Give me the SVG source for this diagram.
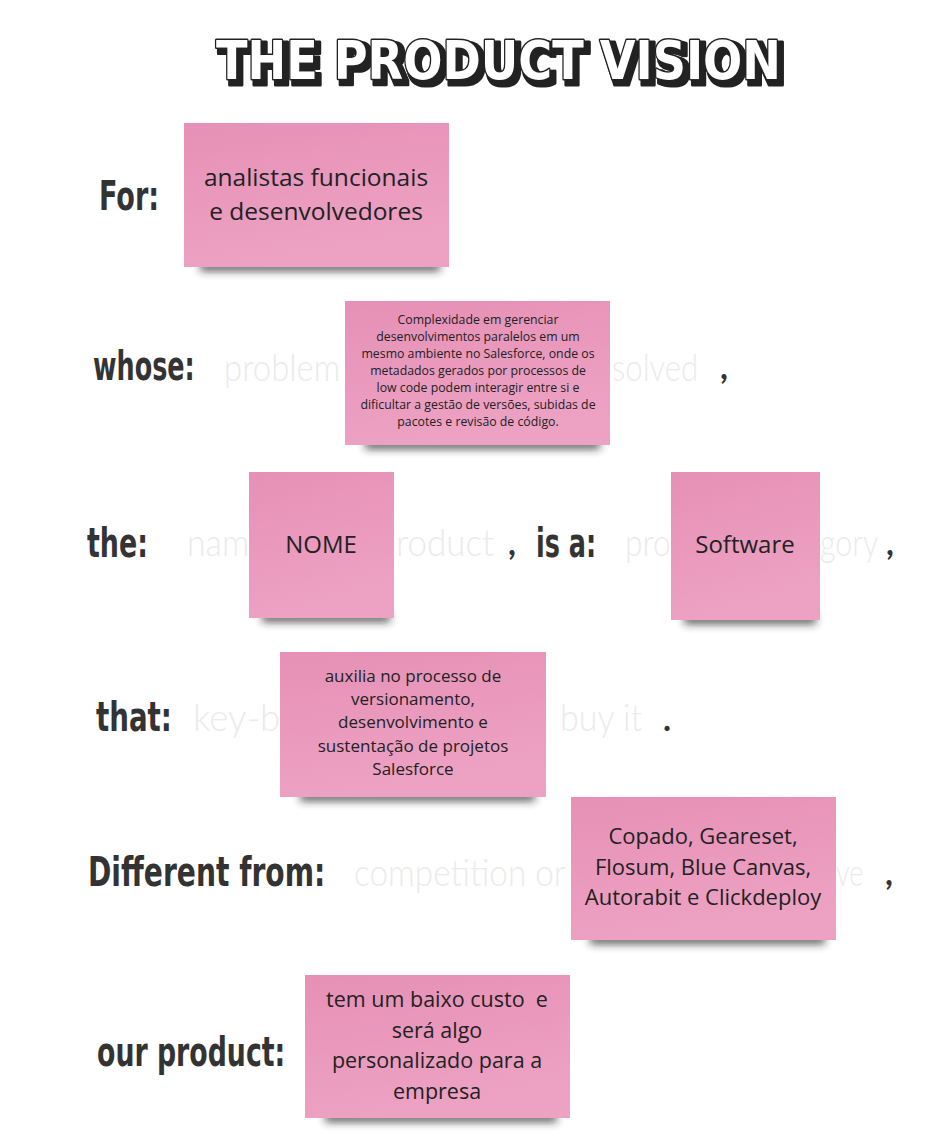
<svg xmlns="http://www.w3.org/2000/svg" width="934" height="1132" viewBox="0 0 934 1132">
  <defs>
    <linearGradient id="pink" x1="0" y1="0" x2="0.3" y2="1">
      <stop offset="0" stop-color="#e690b6"/>
      <stop offset="1" stop-color="#eda2c3"/>
    </linearGradient>
    <filter id="blur" x="-20%" y="-200%" width="140%" height="500%">
      <feGaussianBlur stdDeviation="4"/>
    </filter>
    <filter id="drop3d" x="-5%" y="-20%" width="110%" height="150%">
      <feMorphology in="SourceAlpha" operator="dilate" radius="1.5" result="fat"/>
      <feOffset in="fat" dx="4" dy="4" result="off"/>
      <feFlood flood-color="#222"/>
      <feComposite in2="off" operator="in" result="shadow"/>
      <feMerge>
        <feMergeNode in="shadow"/>
        <feMergeNode in="SourceGraphic"/>
      </feMerge>
    </filter>
    <style>
      .note { fill: url(#pink); }
      .shadow { fill: #222; opacity: 0.75; filter: url(#blur); }
      .nt { font-family: "Open Sans", "Noto Sans", sans-serif; fill: #222; text-anchor: middle; }
      .lbl { font-family: "DejaVu Sans", sans-serif; font-weight: bold; fill: #333; font-size: 40px; }
      .faded { font-family: "Lato", "Open Sans", sans-serif; font-weight: 300; fill: #ebebeb; font-size: 38px; }
      .punct { font-family: "Lato", sans-serif; fill: #333; font-size: 34px; font-weight: bold; }
      .title { font-family: "DejaVu Sans", sans-serif; font-weight: bold; font-size: 54px; }
    </style>
  </defs>
  <rect width="934" height="1132" fill="#ffffff"/>

  <g id="title">
    <text class="title" x="216" y="79" textLength="565" lengthAdjust="spacingAndGlyphs" fill="#ffffff" stroke="#222" stroke-width="3" stroke-linejoin="round" paint-order="stroke" filter="url(#drop3d)">THE PRODUCT VISION</text>
  </g>

  <g id="labels">
    <text class="lbl" transform="translate(99,210) scale(0.66,1)" textLength="91" lengthAdjust="spacingAndGlyphs">For:</text>
    <text class="lbl" transform="translate(93,380) scale(0.64,1)" textLength="159" lengthAdjust="spacingAndGlyphs">whose:</text>
    <text class="lbl" transform="translate(87,557) scale(0.67,1)" textLength="91" lengthAdjust="spacingAndGlyphs">the:</text>
    <text class="lbl" transform="translate(536,557) scale(0.64,1)" textLength="94" lengthAdjust="spacingAndGlyphs">is a:</text>
    <text class="lbl" transform="translate(96,731) scale(0.69,1)" textLength="110" lengthAdjust="spacingAndGlyphs">that:</text>
    <text class="lbl" transform="translate(88,886) scale(0.70,1)" textLength="339" lengthAdjust="spacingAndGlyphs">Different from:</text>
    <text class="lbl" transform="translate(97,1066) scale(0.67,1)" textLength="281" lengthAdjust="spacingAndGlyphs">our product:</text>
  </g>

  <g id="placeholders">
    <text class="faded" transform="translate(224,381) scale(0.83,1)" textLength="140" lengthAdjust="spacingAndGlyphs">problem</text>
    <text class="faded" transform="translate(612,381) scale(0.83,1)" textLength="104" lengthAdjust="spacingAndGlyphs">solved</text>
    <text class="punct" x="720" y="379">,</text>
    <text class="faded" transform="translate(187,556) scale(0.83,1)" textLength="75" lengthAdjust="spacingAndGlyphs">nam</text>
    <text class="faded" transform="translate(396,556) scale(0.83,1)" textLength="118" lengthAdjust="spacingAndGlyphs">roduct</text>
    <text class="punct" x="508" y="555">,</text>
    <text class="faded" transform="translate(625,556) scale(0.83,1)" textLength="55" lengthAdjust="spacingAndGlyphs">pro</text>
    <text class="faded" transform="translate(820,556) scale(0.83,1)" textLength="70" lengthAdjust="spacingAndGlyphs">gory</text>
    <text class="punct" x="886" y="555">,</text>
    <text class="faded" transform="translate(193,731) scale(0.83,1)" textLength="105" lengthAdjust="spacingAndGlyphs">key-b</text>
    <text class="faded" transform="translate(560,731) scale(0.83,1)" textLength="99" lengthAdjust="spacingAndGlyphs">buy it</text>
    <text class="punct" x="663" y="731">.</text>
    <text class="faded" transform="translate(354,886) scale(0.83,1)" textLength="255" lengthAdjust="spacingAndGlyphs">competition or</text>
    <text class="faded" transform="translate(836,886) scale(0.83,1)" textLength="33" lengthAdjust="spacingAndGlyphs">ve</text>
    <text class="punct" x="885" y="885">,</text>
  </g>

  <g id="note-for">
    <rect class="shadow" x="200" y="262" width="240" height="9"/>
    <rect class="note" x="184" y="123" width="265" height="144"/>
    <text class="nt" font-size="24.5" x="316" y="186">analistas funcionais</text>
    <text class="nt" font-size="24.5" x="316" y="220">e desenvolvedores</text>
  </g>

  <g id="note-whose">
    <rect class="shadow" x="365" y="440" width="235" height="9"/>
    <rect class="note" x="345" y="301" width="265" height="144"/>
    <text class="nt" font-size="12.3" x="478" y="324">Complexidade em gerenciar</text>
    <text class="nt" font-size="12.3" x="478" y="341">desenvolvimentos paralelos em um</text>
    <text class="nt" font-size="12.3" x="478" y="358">mesmo ambiente no Salesforce, onde os</text>
    <text class="nt" font-size="12.3" x="478" y="375">metadados gerados por processos de</text>
    <text class="nt" font-size="12.3" x="478" y="392">low code podem interagir entre si e</text>
    <text class="nt" font-size="12.3" x="478" y="409">dificultar a gestão de versões, subidas de</text>
    <text class="nt" font-size="12.3" x="478" y="426">pacotes e revisão de código.</text>
  </g>

  <g id="note-name">
    <rect class="shadow" x="262" y="613" width="128" height="9"/>
    <rect class="note" x="249" y="472" width="145" height="146"/>
    <text class="nt" font-size="24" x="321" y="553">NOME</text>
  </g>

  <g id="note-category">
    <rect class="shadow" x="684" y="615" width="132" height="9"/>
    <rect class="note" x="671" y="472" width="149" height="148"/>
    <text class="nt" font-size="24" x="745" y="553">Software</text>
  </g>

  <g id="note-that">
    <rect class="shadow" x="300" y="792" width="235" height="9"/>
    <rect class="note" x="280" y="652" width="266" height="145"/>
    <text class="nt" font-size="17" x="413" y="682">auxilia no processo de</text>
    <text class="nt" font-size="17" x="413" y="705">versionamento,</text>
    <text class="nt" font-size="17" x="413" y="728">desenvolvimento e</text>
    <text class="nt" font-size="17" x="413" y="752">sustentação de projetos</text>
    <text class="nt" font-size="17" x="413" y="775">Salesforce</text>
  </g>

  <g id="note-different">
    <rect class="shadow" x="590" y="935" width="235" height="9"/>
    <rect class="note" x="571" y="797" width="265" height="143"/>
    <text class="nt" font-size="22" x="703" y="844">Copado, Geareset,</text>
    <text class="nt" font-size="22" x="703" y="875">Flosum, Blue Canvas,</text>
    <text class="nt" font-size="22" x="703" y="905">Autorabit e Clickdeploy</text>
  </g>

  <g id="note-product">
    <rect class="shadow" x="325" y="1113" width="232" height="9"/>
    <rect class="note" x="305" y="975" width="265" height="143"/>
    <text class="nt" font-size="21.5" x="437" y="1007" xml:space="preserve">tem um baixo custo  e</text>
    <text class="nt" font-size="21.5" x="437" y="1038">será algo</text>
    <text class="nt" font-size="21.5" x="437" y="1068">personalizado para a</text>
    <text class="nt" font-size="21.5" x="437" y="1099">empresa</text>
  </g>

  <g id="connectors"/>
</svg>
